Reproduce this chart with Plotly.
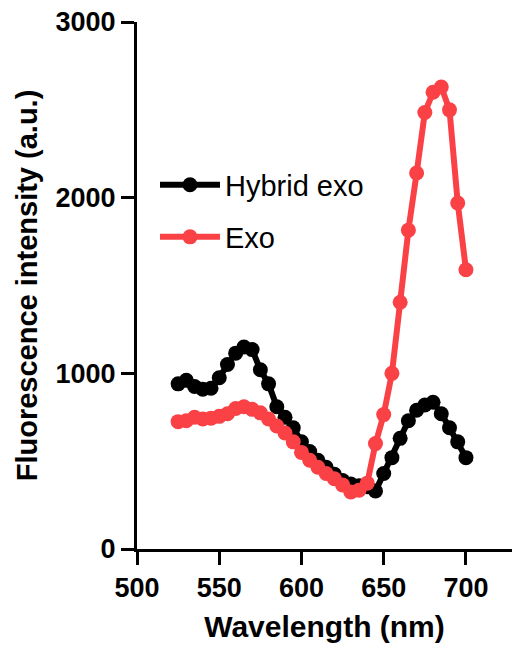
import plotly.graph_objects as go

wavelength = [525, 530, 535, 540, 545, 550, 555, 560, 565, 570, 575, 580,
              585, 590, 595, 600, 605, 610, 615, 620, 625, 630, 635, 640,
              645, 650, 655, 660, 665, 670, 675, 680, 685, 690, 695, 700]

hybrid_exo = [940, 960, 925, 910, 915, 975, 1050, 1115, 1150, 1135, 1020, 940,
              810, 750, 690, 610, 555, 505, 465, 425, 390, 370, 360, 355,
              330, 430, 520, 630, 730, 790, 820, 835, 770, 690, 610, 520]

exo = [725, 730, 750, 740, 745, 755, 770, 800, 810, 795, 775, 740,
       700, 660, 610, 550, 505, 465, 430, 400, 365, 325, 335, 375,
       600, 765, 1000, 1405, 1815, 2140, 2485, 2600, 2630, 2500, 1970, 1590]

x_ticks = [500, 550, 600, 650, 700]
y_ticks = [0, 1000, 2000, 3000]

BLACK = "#000000"
RED = "#FA4146"
FONT = "Liberation Sans, Arial, sans-serif"

fig = go.Figure()
fig.add_trace(go.Scatter(
    x=wavelength, y=hybrid_exo, name="Hybrid exo", mode="lines+markers",
    line=dict(color=BLACK, width=6), marker=dict(color=BLACK, size=15),
    legend="legend", showlegend=True))
fig.add_trace(go.Scatter(
    x=wavelength, y=exo, name="Exo", mode="lines+markers",
    line=dict(color=RED, width=6), marker=dict(color=RED, size=15),
    legend="legend2", showlegend=True))

axis_common = dict(
    showline=True, linecolor="black", linewidth=3, ticks="outside",
    ticklen=13, tickwidth=3, tickcolor="black", showgrid=False, zeroline=False,
    tickfont=dict(family=FONT, size=27, color="black", weight="bold"),
    ticklabelstandoff=0, automargin=False,
)

legend_common = dict(
    xanchor="left", yanchor="middle", bgcolor="rgba(0,0,0,0)",
    itemwidth=60, font=dict(family=FONT, size=29, color="black"),
)

fig.update_layout(
    width=512, height=653,
    margin=dict(l=137, r=0, t=22, b=104),
    paper_bgcolor="white", plot_bgcolor="white",
    showlegend=True,
    font=dict(family=FONT, color="black"),
    xaxis=dict(range=[500, 728], tickvals=x_ticks,
               title=dict(text="Wavelength (nm)", standoff=14,
                          font=dict(family=FONT, size=30, weight="bold")),
               **axis_common),
    yaxis=dict(range=[0, 3000], tickvals=y_ticks,
               title=dict(text="Fluorescence intensity (a.u.)", standoff=10,
                          font=dict(family=FONT, size=29, weight="bold")),
               **axis_common),
    legend=dict(x=0.048, y=0.691, **legend_common),
    legend2=dict(x=0.048, y=0.592, **legend_common),
)

fig.write_html("out.html", config={"displayModeBar": False},
               post_script="document.body.style.margin='0';")
